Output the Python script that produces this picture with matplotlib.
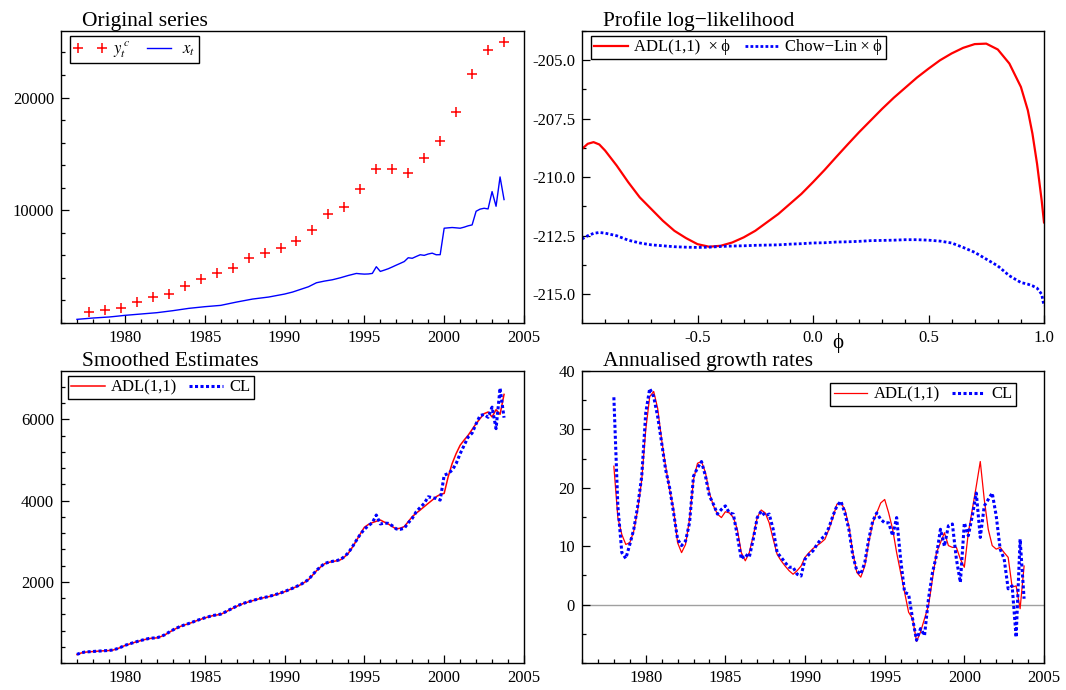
import numpy as np
import matplotlib
matplotlib.use("Agg")
import matplotlib.pyplot as plt
from matplotlib.ticker import MultipleLocator, FixedLocator, FormatStrFormatter

plt.rcParams['font.family'] = ['Liberation Serif', 'DejaVu Serif']
plt.rcParams['mathtext.fontset'] = 'stix'
plt.rcParams['axes.unicode_minus'] = True

RED = "#ff0000"
BLUE = "#0000ff"

# ---- data -------------------------------------------------------------
# annual series y^c (plotted at Q4 of each year), 1977..2003
yc_years = list(range(1977, 2004))
yc_values = [980, 1150, 1330, 1890, 2330, 2570, 3270, 3860, 4450, 4900,
             5750, 6250, 6640, 7290, 8260, 9680, 10300, 11920, 13660, 13690,
             13270, 14660, 16170, 18700, 22070, 24220, 24930]

# quarterly indicator x_t, 1977Q1..2003Q4
x_t = [324, 352, 381, 412, 442, 463, 487, 510, 531, 565, 602, 640,
       678, 708, 737, 767, 796, 826, 855, 885, 914, 958, 1003, 1047,
       1091, 1143, 1195, 1246, 1298, 1335, 1372, 1408, 1445, 1475, 1504, 1534,
       1563, 1637, 1711, 1785, 1858, 1925, 1991, 2058, 2124, 2168, 2213, 2257,
       2301, 2367, 2434, 2500, 2566, 2655, 2743, 2861, 2979, 3097, 3215, 3392,
       3569, 3643, 3717, 3776, 3835, 3923, 4012, 4115, 4218, 4306, 4395, 4360,
       4336, 4350, 4398, 4991, 4575, 4690, 4814, 4970, 5133, 5290, 5450, 5788,
       5740, 5900, 6053, 6000, 6120, 6195, 6053, 6060, 8407, 8440, 8469, 8440,
       8407, 8500, 8619, 8700, 9912, 10100, 10177, 10118, 11655, 10354, 12956, 10947]

# smoothed quarterly estimates, 1977Q1..2003Q4
smooth_adl = [209, 245, 266, 275, 282, 290, 297, 302, 307, 318, 348, 385,
              430, 462, 495, 525, 552, 578, 601, 612, 618, 650, 691, 750,
              806, 858, 904, 938, 969, 1005, 1043, 1076, 1108, 1138, 1166, 1182,
              1198, 1245, 1296, 1345, 1395, 1438, 1476, 1505, 1534, 1563, 1591, 1612,
              1632, 1660, 1689, 1720, 1755, 1795, 1836, 1880, 1926, 1985, 2049, 2160,
              2270, 2360, 2442, 2475, 2499, 2515, 2540, 2610, 2703, 2850, 3014, 3180,
              3341, 3410, 3456, 3490, 3521, 3470, 3423, 3360, 3300, 3320, 3358, 3480,
              3603, 3690, 3767, 3850, 3931, 4010, 4094, 4150, 4176, 4585, 4912, 5157,
              5362, 5490, 5607, 5750, 5894, 6020, 6139, 6180, 6058, 6238, 6123, 6614]
smooth_cl = [212, 250, 270, 277, 283, 291, 296, 303, 309, 320, 350, 388,
             433, 466, 497, 527, 555, 580, 603, 614, 620, 652, 695, 755,
             812, 862, 906, 940, 972, 1008, 1046, 1078, 1112, 1140, 1168, 1185,
             1202, 1248, 1300, 1350, 1400, 1442, 1478, 1508, 1538, 1566, 1594, 1615,
             1636, 1664, 1693, 1724, 1760, 1800, 1840, 1885, 1930, 1990, 2055, 2168,
             2280, 2368, 2448, 2480, 2503, 2520, 2548, 2620, 2715, 2860, 3020, 3170,
             3292, 3380, 3455, 3644, 3423, 3445, 3439, 3380, 3300, 3292, 3317, 3450,
             3560, 3725, 3830, 3929, 4093, 4070, 4052, 4011, 4624, 4665, 4747, 4910,
             5155, 5359, 5563, 5661, 5890, 6094, 6120, 6050, 6300, 5770, 6770, 6040]

# annualised growth rates (%), 1978Q1..2003Q4
growth_adl = [23.7, 14.9, 12.0, 10.3, 10.6, 12.6, 16.3, 21.4,
              29.9, 35.6, 36.5, 33.6, 28.2, 23.7, 19.7, 16.3,
              10.6, 8.9, 10.3, 14.6, 21.4, 24.2, 24.5, 22.6,
              19.1, 16.9, 15.5, 14.9, 15.9, 15.7, 14.9, 12.9,
              8.9, 7.5, 8.9, 11.8, 14.9, 16.2, 15.7, 14.0,
              11.2, 8.6, 7.5, 6.6, 5.8, 5.2, 5.8, 6.6,
              8.1, 8.9, 9.6, 10.1, 10.6, 11.2, 12.9, 14.9,
              17.2, 17.4, 16.3, 13.5, 8.9, 5.5, 4.7, 6.6,
              10.6, 14.0, 15.7, 17.4, 18.0, 15.7, 12.9, 8.9,
              5.5, 2.1, -1.3, -2.4, -6.3, -4.7, -2.4, -0.2,
              4.4, 8.9, 10.6, 12.3, 10.1, 9.8, 9.8, 7.8,
              6.4, 12.3, 16.3, 20.3, 24.5, 18.0, 12.9, 10.1,
              9.5, 9.8, 8.9, 8.1, 3.0, 3.2, -0.7, 6.6]
growth_cl = [35.5, 16.9, 8.9, 7.9, 10.3, 12.9, 16.9, 22.0,
             32.8, 37.0, 35.6, 32.2, 27.7, 23.1, 20.0, 15.7,
             11.2, 10.1, 10.9, 14.0, 22.0, 23.4, 24.5, 22.0,
             18.6, 17.2, 15.5, 16.3, 16.9, 15.7, 15.5, 11.8,
             7.8, 8.6, 8.1, 11.2, 14.9, 16.0, 15.2, 15.5,
             12.9, 8.9, 8.1, 7.2, 6.4, 6.4, 5.2, 4.9,
             7.8, 8.6, 9.2, 10.3, 11.2, 11.8, 13.2, 15.2,
             16.9, 17.7, 15.7, 12.9, 8.4, 5.8, 5.2, 7.2,
             11.2, 14.3, 15.7, 14.6, 14.0, 14.0, 11.8, 14.9,
             7.8, 2.1, 1.8, -2.4, -6.1, -4.1, -5.3, 1.0,
             5.5, 8.4, 12.9, 10.0, 13.5, 13.8, 7.8, 3.8,
             14.0, 11.8, 15.2, 19.1, 11.5, 16.9, 18.0, 19.1,
             15.2, 9.5, 7.8, 2.7, 3.2, -5.6, 11.2, 1.0]

# profile log-likelihood over phi
phi = [-1.0, -0.975, -0.95, -0.925, -0.9, -0.85, -0.8, -0.75, -0.7, -0.65,
       -0.6, -0.55, -0.5, -0.45, -0.4, -0.35, -0.3, -0.25, -0.2, -0.15,
       -0.1, -0.05, 0.0, 0.05, 0.1, 0.15, 0.2, 0.25, 0.3, 0.35,
       0.4, 0.45, 0.5, 0.55, 0.6, 0.65, 0.7, 0.75, 0.8, 0.85,
       0.9, 0.93, 0.95, 0.97, 0.99, 1.0]
loglik_adl = [-208.79, -208.57, -208.50, -208.60, -208.86, -209.50, -210.21, -210.86, -211.36, -211.86,
              -212.29, -212.60, -212.86, -212.97, -212.93, -212.79, -212.57, -212.29, -211.93, -211.57,
              -211.14, -210.71, -210.21, -209.69, -209.14, -208.60, -208.07, -207.57, -207.07, -206.60,
              -206.17, -205.74, -205.36, -205.00, -204.71, -204.47, -204.31, -204.29, -204.54, -205.14,
              -206.14, -207.14, -208.14, -209.43, -211.00, -211.93]
loglik_cl = [-212.64, -212.50, -212.40, -212.36, -212.39, -212.50, -212.69, -212.81, -212.89, -212.93,
             -212.97, -212.99, -213.00, -212.99, -212.96, -212.94, -212.93, -212.91, -212.90, -212.89,
             -212.86, -212.84, -212.81, -212.80, -212.77, -212.76, -212.74, -212.71, -212.70, -212.69,
             -212.67, -212.67, -212.69, -212.73, -212.81, -213.00, -213.21, -213.50, -213.79, -214.21,
             -214.50, -214.57, -214.64, -214.74, -215.00, -215.50]

quarters = 1977 + np.arange(len(x_t)) / 4.0
growth_q = quarters[4:]
yc_x = np.array(yc_years) + 0.75

# ---- layout -----------------------------------------------------------
W, H = 1066, 690
fig = plt.figure(figsize=(W / 100, H / 100), dpi=100)


def px_axes(x0, y0, x1, y1):
    return fig.add_axes([x0 / W, 1 - y1 / H, (x1 - x0) / W, (y1 - y0) / H])


ax1 = px_axes(61, 31, 524, 323)
ax2 = px_axes(582, 31, 1044, 323)
ax3 = px_axes(61, 371, 524, 663)
ax4 = px_axes(582, 371, 1044, 663)


def style(ax):
    for s in ax.spines.values():
        s.set_linewidth(1.0)
    ax.tick_params(which='both', direction='in', top=False, right=False,
                   labelsize=12, pad=5, width=0.9)
    ax.tick_params(which='major', length=5.5)
    ax.tick_params(which='minor', length=3.1)


def title(ax, text):
    ax.annotate(text, xy=(0, 1), xycoords='axes fraction', xytext=(21, 5),
                textcoords='offset pixels', fontsize=15.5, va='baseline', ha='left')


def date_axis(ax):
    ax.set_xlim(1976, 2005)
    ax.xaxis.set_major_locator(FixedLocator([1980, 1985, 1990, 1995, 2000, 2005]))
    ax.xaxis.set_minor_locator(MultipleLocator(1))


def legend(ax, dx, dy, loc='upper left', **kw):
    # dx, dy: pixel offsets of the legend frame from the axes corner
    bb = ax.get_position()
    wpx, hpx = bb.width * W, bb.height * H
    if loc == 'upper left':
        anchor = (dx / wpx, 1 - dy / hpx)
    else:
        anchor = (1 - dx / wpx, 1 - dy / hpx)
    opts = dict(ncol=2, fontsize=12, frameon=True, fancybox=False,
                edgecolor='black', framealpha=1, borderpad=0.2,
                columnspacing=0.7, handletextpad=0.4, handlelength=2.0,
                loc=loc, bbox_to_anchor=anchor, borderaxespad=0)
    opts.update(kw)
    leg = ax.legend(**opts)
    leg.get_frame().set_linewidth(1.0)
    return leg


# Original series
style(ax1)
ax1.plot(yc_x, yc_values, linestyle='none', marker='+', color=RED,
         markersize=7, mew=1.1, label=r'$y_t^{\,c}$')
ax1.plot(quarters, x_t, color=BLUE, lw=1.0, label=r'$x_t$')
date_axis(ax1)
ax1.set_ylim(0, 25900)
ax1.yaxis.set_major_locator(FixedLocator([10000, 20000]))
ax1.yaxis.set_minor_locator(MultipleLocator(2000))
title(ax1, 'Original series')
legend(ax1, 9, 5, numpoints=2)

# Profile log-likelihood
style(ax2)
ax2.plot(phi, loglik_adl, color=RED, lw=1.6, label='ADL(1,1)  \u00d7\u2009\u03d5')
ax2.plot(phi, loglik_cl, color=BLUE, lw=2.0, linestyle=(0, (1, 0.8)),
         label='Chow\u2212Lin\u2009\u00d7\u2009\u03d5')
ax2.set_xlim(-1.0, 1.0)
ax2.set_ylim(-216.23, -203.75)
ax2.xaxis.set_major_locator(FixedLocator([-0.5, 0.0, 0.5, 1.0]))
ax2.xaxis.set_minor_locator(MultipleLocator(0.1))
ax2.yaxis.set_major_locator(FixedLocator([-215.0, -212.5, -210.0, -207.5, -205.0]))
ax2.yaxis.set_minor_locator(MultipleLocator(1.25))
ax2.yaxis.set_major_formatter(FormatStrFormatter('%.1f'))
ax2.xaxis.set_major_formatter(FormatStrFormatter('%.1f'))
ax2.annotate('\u03d5', xy=(0.554, 0), xycoords='axes fraction', xytext=(0, -20),
             textcoords='offset pixels', fontsize=15, ha='center', va='center')
title(ax2, 'Profile log\u2212likelihood')
legend(ax2, 9, 5, columnspacing=0.9)

# Smoothed Estimates
style(ax3)
ax3.plot(quarters, smooth_adl, color=RED, lw=1.1, label='ADL(1,1)')
ax3.plot(quarters, smooth_cl, color=BLUE, lw=2.2, linestyle=(0, (1, 0.8)), label='CL')
date_axis(ax3)
ax3.set_ylim(0, 7190)
ax3.yaxis.set_major_locator(FixedLocator([2000, 4000, 6000]))
ax3.yaxis.set_minor_locator(MultipleLocator(400))
title(ax3, 'Smoothed Estimates')
legend(ax3, 7, 5)

# Annualised growth rates
style(ax4)
ax4.axhline(0, color='#a0a0a0', lw=1.0, zorder=1)
ax4.plot(growth_q, growth_adl, color=RED, lw=0.9, label='ADL(1,1)')
ax4.plot(growth_q, growth_cl, color=BLUE, lw=2.2, linestyle=(0, (1, 0.8)), label='CL')
date_axis(ax4)
ax4.set_ylim(-10, 40)
ax4.yaxis.set_major_locator(FixedLocator([0, 10, 20, 30, 40]))
ax4.yaxis.set_minor_locator(MultipleLocator(5))
title(ax4, 'Annualised growth rates')
legend(ax4, 28, 12, loc='upper right')

fig.savefig('out.png', dpi=100, facecolor='white')
